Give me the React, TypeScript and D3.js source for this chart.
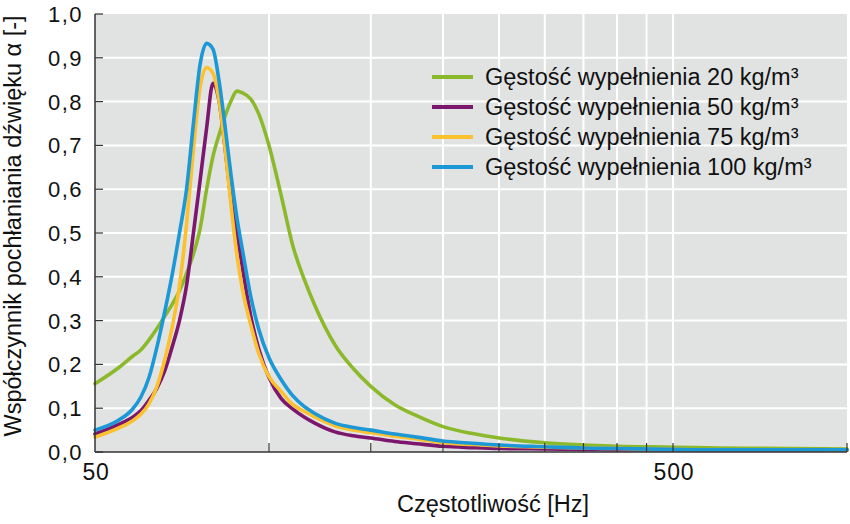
import * as d3 from "d3";

const freqs = [50, 55, 58, 60, 62, 64, 66, 68, 70, 72, 74, 76, 78, 80, 82, 84, 86, 88, 90, 93, 96, 100, 105, 110, 115, 120, 130, 140, 150, 165, 180, 200, 225, 250, 300, 350, 400, 500, 600, 800, 1000];

const density20 = [0.156, 0.193, 0.218, 0.233, 0.256, 0.282, 0.31, 0.337, 0.368, 0.408, 0.452, 0.51, 0.6, 0.675, 0.725, 0.768, 0.802, 0.824, 0.82, 0.806, 0.772, 0.7, 0.585, 0.47, 0.395, 0.335, 0.245, 0.19, 0.15, 0.108, 0.083, 0.058, 0.042, 0.032, 0.021, 0.016, 0.013, 0.011, 0.009, 0.008, 0.007];
const density50 = [0.041, 0.063, 0.079, 0.094, 0.118, 0.146, 0.185, 0.24, 0.3, 0.38, 0.5, 0.62, 0.74, 0.842, 0.8, 0.69, 0.575, 0.5, 0.42, 0.31, 0.235, 0.17, 0.122, 0.098, 0.08, 0.066, 0.046, 0.037, 0.032, 0.024, 0.019, 0.013, 0.01, 0.008, 0.007, 0.006, 0.005, 0.005, 0.004, 0.004, 0.004];
const density75 = [0.034, 0.055, 0.071, 0.086, 0.11, 0.15, 0.21, 0.285, 0.38, 0.52, 0.69, 0.833, 0.878, 0.865, 0.8, 0.69, 0.56, 0.45, 0.37, 0.29, 0.225, 0.172, 0.138, 0.108, 0.093, 0.08, 0.06, 0.05, 0.044, 0.036, 0.03, 0.021, 0.017, 0.014, 0.011, 0.009, 0.008, 0.006, 0.005, 0.005, 0.004];
const density100 = [0.05, 0.073, 0.097, 0.125, 0.17, 0.24, 0.32, 0.405, 0.5, 0.6, 0.75, 0.885, 0.933, 0.92, 0.845, 0.74, 0.63, 0.535, 0.46, 0.355, 0.28, 0.215, 0.165, 0.128, 0.104, 0.088, 0.066, 0.056, 0.05, 0.041, 0.034, 0.025, 0.02, 0.016, 0.012, 0.009, 0.008, 0.006, 0.005, 0.005, 0.005];

const seriesNames = [
  "Gęstość wypełnienia 20 kg/m³",
  "Gęstość wypełnienia 50 kg/m³",
  "Gęstość wypełnienia 75 kg/m³",
  "Gęstość wypełnienia 100 kg/m³",
];
const seriesValues = [density20, density50, density75, density100];
const colors = ["#8cb92c", "#7c176e", "#fbc12e", "#1b98d5"];

const yTicks = [0, 0.1, 0.2, 0.3, 0.4, 0.5, 0.6, 0.7, 0.8, 0.9, 1.0];
const xGrid = [100, 150, 200, 250, 300, 350, 400, 450, 500];
const xTickMarks = [100, 150, 200, 250, 300, 350, 400, 450, 500, 1000];
const xLabels = [50, 500];

const W = 850;
const H = 524;
const left = 95;
const right = 847;
const top = 14;
const bottom = 452;
const font = "'Liberation Sans', Arial, sans-serif";

export default function App() {
  const x = d3.scaleLog().domain([50, 1000]).range([left, right]);
  const y = d3.scaleLinear().domain([0, 1]).range([bottom, top]);

  const line = d3
    .line<number>()
    .x((_, i) => x(freqs[i]))
    .y((d) => y(d))
    .curve(d3.curveMonotoneX);

  const fmt = (v: number) => v.toFixed(1).replace(".", ",");

  return (
    <svg
      width={W}
      height={H}
      style={{ position: "absolute", left: 0, top: 0, display: "block", background: "#fff" }}
      fontFamily={font}
    >
      <rect x={left} y={top} width={right - left} height={bottom - top} fill="#e1e3e3" />

      {yTicks.slice(1, -1).map((t) => (
        <line key={"gy" + t} x1={left} x2={right} y1={y(t)} y2={y(t)} stroke="#fff" strokeWidth={2} />
      ))}
      {xGrid.map((f) => (
        <line key={"gx" + f} x1={x(f)} x2={x(f)} y1={top} y2={bottom} stroke="#fff" strokeWidth={2} />
      ))}

      {seriesValues.map((vals, i) => (
        <path
          key={"s" + i}
          d={line(vals) ?? ""}
          fill="none"
          stroke={colors[i]}
          strokeWidth={3.6}
          strokeLinejoin="round"
          strokeLinecap="round"
        />
      ))}

      <line x1={left} x2={left} y1={top} y2={bottom} stroke="#333" strokeWidth={1.5} />
      <line x1={left} x2={right} y1={bottom} y2={bottom} stroke="#333" strokeWidth={1.5} />

      {yTicks.map((t) => (
        <g key={"ty" + t}>
          <line x1={left} x2={left + 8} y1={y(t)} y2={y(t)} stroke="#333" strokeWidth={1.2} />
          <text x={83} y={y(t)} dy="0.36em" textAnchor="end" fontSize={22} letterSpacing={1.5} fill="#111">
            {fmt(t)}
          </text>
        </g>
      ))}
      {xTickMarks.map((f) => (
        <line key={"tx" + f} x1={x(f)} x2={x(f)} y1={bottom - 9} y2={bottom} stroke="#333" strokeWidth={1.2} />
      ))}
      {xLabels.map((f) => (
        <text key={"lx" + f} x={x(f) + 1} y={480} textAnchor="middle" fontSize={23} letterSpacing={0.8} fill="#111">
          {f}
        </text>
      ))}

      <text x={493} y={512} textAnchor="middle" fontSize={23.5} fill="#111">
        Częstotliwość [Hz]
      </text>
      <text
        transform={`translate(21,${226}) rotate(-90)`}
        textAnchor="middle"
        fontSize={23.5}
        fill="#111"
      >
        Współczynnik pochłaniania dźwięku α [-]
      </text>

      {seriesNames.map((name, i) => (
        <g key={"lg" + i} transform={`translate(0,${77 + i * 30})`}>
          <line x1={432} x2={473} y1={0} y2={0} stroke={colors[i]} strokeWidth={4} />
          <text x={485} y={0} dy="0.36em" fontSize={23.5} fill="#111">
            {name}
          </text>
        </g>
      ))}
    </svg>
  );
}
